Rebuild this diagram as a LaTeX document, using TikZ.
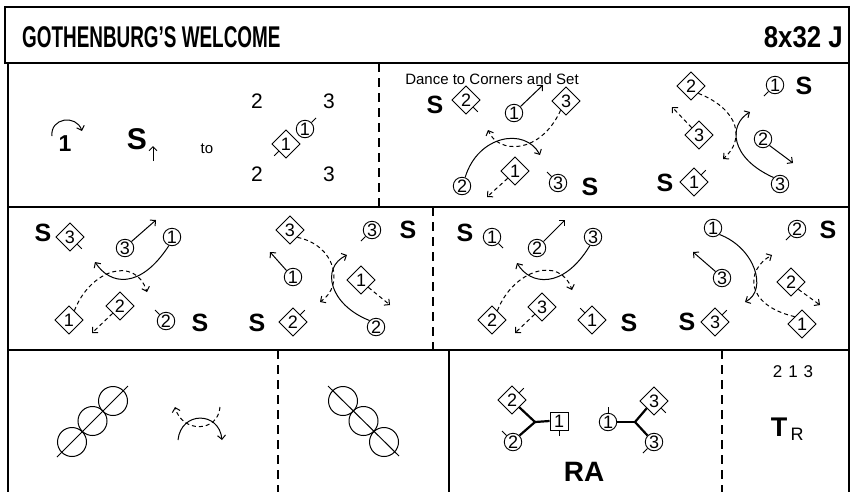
\documentclass[tikz,border=0pt]{standalone}
\usepackage{fontspec}
\setmainfont{Liberation Sans}
\usetikzlibrary{arrows.meta,shapes.geometric,calc}
\newcommand\tkNE[1]{\draw[tk] (#1.north east) -- ++(4.5,-4.5);}
\newcommand\tkNW[1]{\draw[tk] (#1.north west) -- ++(-4.5,-4.5);}
\newcommand\tkSE[1]{\draw[tk] (#1.south east) -- ++(4.5,4.5);}
\newcommand\tkSW[1]{\draw[tk] (#1.south west) -- ++(-4.5,4.5);}
\newcommand\tkN[1]{\draw[tk] (#1.north) -- ++(0,-6);}
\newcommand\tkS[1]{\draw[tk] (#1.south) -- ++(0,6);}
\tikzset{
 dc/.style={circle,draw,line width=0.9pt,minimum size=17.5pt,inner sep=0pt,font=\fontsize{18}{18}\selectfont},
 dd/.style={diamond,draw,line width=0.9pt,minimum size=28.5pt,inner sep=0pt,font=\fontsize{18}{18}\selectfont},
 dsq/.style={rectangle,draw,line width=0.9pt,minimum size=18pt,inner sep=0pt,font=\fontsize{18}{18}\selectfont},
 bc/.style={circle,draw,line width=1pt,minimum size=29pt,inner sep=0pt},
 tk/.style={line width=0.9pt},
 arr/.style={line width=1pt,-{Straight Barb[length=4pt,width=8pt]}},
 darr/.style={arr,dash pattern=on 4pt off 3pt},
 bigS/.style={font=\fontsize{25}{25}\selectfont\bfseries,inner sep=0pt},
 frm/.style={line width=1.8pt},
 dfrm/.style={line width=1.4pt,dash pattern=on 9pt off 6pt},
 thk/.style={line width=2.2pt},
 num/.style={font=\fontsize{21}{21}\selectfont,inner sep=0pt},
}
\begin{document}
\begin{tikzpicture}[x=1pt,y=-1pt]
\useasboundingbox (0,0) rectangle (853,491);
\fill[white] (0,0) rectangle (853,491);
% frames
\draw[frm] (5,7) rectangle (849,63);
\draw[frm] (8,63) -- (8,495);
\draw[frm] (849,63) -- (849,495);
\draw[frm] (8,207) -- (849,207);
\draw[frm] (8,350) -- (849,350);
\draw[dfrm] (379,63) -- (379,207);
\draw[dfrm] (433,207) -- (433,350);
\draw[dfrm] (278,350) -- (278,495);
\draw[frm] (449,350) -- (449,495);
\draw[dfrm] (722,350) -- (722,495);
% title
\node[anchor=base west,inner sep=0pt,font=\fontsize{30}{30}\selectfont\bfseries] (title) at (22,47) {\scalebox{0.63}[1]{GOTHENBURG’S WELCOME}};
\node[anchor=base east,inner sep=0pt,font=\fontsize{30}{30}\selectfont\bfseries] (form) at (843,47) {\scalebox{0.86}[1]{8x32 J}};
% panel 1
\node[font=\fontsize{23}{23}\selectfont\bfseries,inner sep=0pt] (t1) at (65,144) {1};
\coordinate (ta) at (52,136); \coordinate (tb) at (82,131);
\draw[arr] (ta) .. controls (50,118) and (76,114) .. (tb);
\node[font=\fontsize{30}{30}\selectfont\bfseries,inner sep=0pt] (s0) at (137,139) {S};
\coordinate (ua) at (153,161); \coordinate (ub) at (153,146);
\draw[arr] (ua) -- (ub);
\node[font=\fontsize{15}{15}\selectfont,anchor=base,inner sep=0pt] (to) at (207,153) {to};
\node[num] (n2a) at (257,101) {2};
\node[num] (n3a) at (329,101) {3};
\node[num] (n2b) at (257,174) {2};
\node[num] (n3b) at (329,174) {3};
\node[dc] (p1c1) at (305,129) {1}; \tkNE{p1c1}
\node[dd] (p1d1) at (286,144) {1}; \tkSW{p1d1}
% panel 2
\node[font=\fontsize{15}{15}\selectfont,anchor=base,inner sep=0pt] (dtc) at (492,84) {Dance to Corners and Set};
\node[bigS] (s21) at (435,105) {S};
\node[dd] (p2d2) at (466,100) {2}; \tkSE{p2d2}
\node[dc] (p2c1) at (514,113) {1};
\coordinate (p2a1) at (543,85);
\draw[arr] (p2c1.north east) -- (p2a1);
\node[dd] (p2d3) at (566,101) {3};
\node[dc] (p2c2) at (462,186) {2};
\coordinate (p2sa) at (540,155);
\draw[arr] (p2c2.70) .. controls (478,135) and (525,127) .. (p2sa);
\coordinate (p2da) at (488,130);
\draw[darr] (p2d3.240) .. controls (540,155) and (498,154) .. (p2da);
\node[dd] (p2d1) at (515,171) {1};
\coordinate (p2b1) at (487,197);
\draw[darr] (p2d1.south west) -- (p2b1);
\node[dc] (p2c3) at (558,183) {3}; \tkNW{p2c3}
\node[bigS] (s22) at (590,187) {S};
% panel 3
\node[dd] (p3d2) at (691,86) {2};
\node[dc] (p3c1) at (775,85) {1}; \tkSW{p3c1}
\node[bigS] (s31) at (804,86) {S};
\node[dd] (p3d3) at (699,135) {3};
\coordinate (p3b3) at (672,107);
\draw[darr] (p3d3.north west) -- (p3b3);
\node[dc] (p3c2) at (763,139) {2};
\coordinate (p3a2) at (793,163);
\draw[arr] (p3c2.south east) -- (p3a2);
\node[bigS] (s32) at (665,183) {S};
\node[dd] (p3d1) at (694,182) {1}; \tkNE{p3d1}
\node[dc] (p3c3) at (780,184) {3};
\coordinate (p3sa) at (750,112);
\draw[arr] (p3c3.north west) .. controls (730,158) and (728,125) .. (p3sa);
\coordinate (p3da) at (723,159);
\draw[darr] (p3d2.south east) .. controls (740,110) and (745,140) .. (p3da);
% panel 4
\node[bigS] (s41) at (43,233) {S};
\node[dd] (p4d3) at (70,237) {3}; \tkSE{p4d3}
\node[dc] (p4c3) at (125,248) {3};
\coordinate (p4a3) at (156,220);
\draw[arr] (p4c3.north east) -- (p4a3);
\node[dc] (p4c1) at (172,237) {1};
\coordinate (p4sa) at (95,262);
\draw[arr] (p4c1.250) .. controls (140,290) and (110,285) .. (p4sa);
\node[dd] (p4d1) at (69,320) {1};
\coordinate (p4da) at (147,292);
\draw[darr] (p4d1.60) .. controls (90,270) and (135,255) .. (p4da);
\node[dd] (p4d2) at (120,306) {2};
\coordinate (p4b2) at (92,333);
\draw[darr] (p4d2.south west) -- (p4b2);
\node[dc] (p4c2) at (166,321) {2}; \tkNW{p4c2}
\node[bigS] (s42) at (200,323) {S};
% panel 5
\node[dd] (p5d3) at (290,230) {3};
\node[dc] (p5c3) at (372,230) {3}; \tkSW{p5c3}
\node[bigS] (s51) at (408,230) {S};
\node[dc] (p5c1) at (293,277) {1};
\coordinate (p5a1) at (270,252);
\draw[arr] (p5c1.north west) -- (p5a1);
\node[dd] (p5d1) at (361,280) {1};
\coordinate (p5b1) at (390,305);
\draw[darr] (p5d1.south east) -- (p5b1);
\node[bigS] (s52) at (257,323) {S};
\node[dd] (p5d2) at (293,322) {2}; \tkNE{p5d2}
\node[dc] (p5c2) at (376,327) {2};
\coordinate (p5sa) at (347,255);
\draw[arr] (p5c2.north west) .. controls (330,305) and (320,268) .. (p5sa);
\coordinate (p5da) at (320,302);
\draw[darr] (p5d3.south east) .. controls (335,245) and (345,285) .. (p5da);
% panel 6
\node[bigS] (s61) at (465,233) {S};
\node[dc] (p6c1) at (492,237) {1}; \tkSE{p6c1}
\node[dc] (p6c2) at (537,248) {2};
\coordinate (p6a2) at (565,220);
\draw[arr] (p6c2.north east) -- (p6a2);
\node[dc] (p6c3) at (593,237) {3};
\coordinate (p6sa) at (517,263);
\draw[arr] (p6c3.250) .. controls (563,290) and (530,285) .. (p6sa);
\node[dd] (p6d2) at (492,320) {2};
\coordinate (p6da) at (572,290);
\draw[darr] (p6d2.60) .. controls (513,270) and (560,255) .. (p6da);
\node[dd] (p6d3) at (542,307) {3};
\coordinate (p6b3) at (515,333);
\draw[darr] (p6d3.south west) -- (p6b3);
\node[dd] (p6d1) at (592,320) {1}; \tkNW{p6d1}
\node[bigS] (s62) at (629,323) {S};
% panel 7
\node[dc] (p7c1) at (713,228) {1};
\coordinate (p7sa) at (745,302);
\draw[arr] (p7c1.south east) .. controls (755,248) and (768,290) .. (p7sa);
\node[dc] (p7c2) at (797,229) {2}; \tkSW{p7c2}
\node[bigS] (s71) at (828,230) {S};
\node[dc] (p7c3) at (722,278) {3};
\coordinate (p7a3) at (693,252);
\draw[arr] (p7c3.north west) -- (p7a3);
\node[dd] (p7d1) at (802,324) {1};
\coordinate (p7da) at (772,255);
\draw[darr] (p7d1.north west) .. controls (745,305) and (745,270) .. (p7da);
\node[dd] (p7d2) at (791,282) {2};
\coordinate (p7b2) at (820,305);
\draw[darr] (p7d2.south east) -- (p7b2);
\node[bigS] (s72) at (687,322) {S};
\node[dd] (p7d3) at (715,322) {3}; \tkNE{p7d3}
% row 3 left chain
\node[bc] (l1) at (72,442) {};
\node[bc] (l2) at (92.5,421) {};
\node[bc] (l3) at (113,401) {};
\coordinate (la) at (57,457); \coordinate (lb) at (128,386);
\draw[line width=1pt] (la) -- (lb);
% swap
\coordinate (sw1) at (178,440); \coordinate (sw2) at (222,440);
\draw[arr] (sw1) .. controls (181,411) and (219,411) .. (sw2);
\coordinate (sw3) at (220,407); \coordinate (sw4) at (175,407);
\draw[darr] (sw3) .. controls (218,433) and (182,433) .. (sw4);
% right chain
\node[bc] (r1) at (343,401) {};
\node[bc] (r2) at (363.5,421) {};
\node[bc] (r3) at (384,442) {};
\coordinate (ra1) at (328,386); \coordinate (ra2) at (399,456);
\draw[line width=1pt] (ra1) -- (ra2);
% RA
\node[dd] (rd2) at (512,400) {2}; \tkNE{rd2}
\node[dc] (rc2) at (513,442) {2}; \tkNW{rc2}
\coordinate (j1) at (535,422);
\node[dsq] (rs1) at (559,421) {1}; \tkS{rs1}
\draw[thk] (rd2.south east) -- (j1);
\draw[thk] (rc2.north east) -- (j1);
\draw[thk] (j1) -- (rs1.west);
\node[dc] (rc1) at (608,422) {1}; \tkN{rc1}
\coordinate (j2) at (635,422);
\node[dd] (rd3) at (654,401) {3}; \tkSE{rd3}
\node[dc] (rc3) at (654,442) {3}; \tkSW{rc3}
\draw[thk] (rc1.east) -- (j2);
\draw[thk] (j2) -- (rd3.south west);
\draw[thk] (j2) -- (rc3.north west);
\node[font=\fontsize{28}{28}\selectfont\bfseries,inner sep=0pt] (ra) at (584,472) {RA};
% T_R
\node[font=\fontsize{17}{17}\selectfont,inner sep=0pt] (ord) at (793,372) {2\hspace{6pt}1\hspace{6pt}3};
\node[font=\fontsize{27}{27}\selectfont\bfseries,inner sep=0pt] (tr) at (779,427) {T};
\node[font=\fontsize{18}{18}\selectfont,inner sep=0pt] (trr) at (797,434) {R};
\end{tikzpicture}
\end{document}
